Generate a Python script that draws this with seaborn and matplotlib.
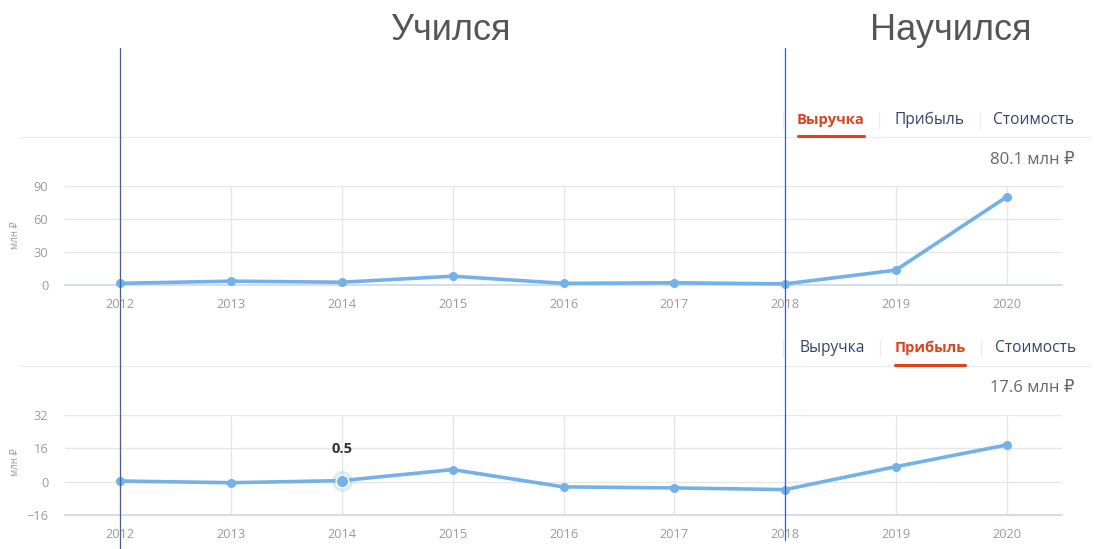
import matplotlib
matplotlib.use("Agg")
import matplotlib.pyplot as plt
from matplotlib.lines import Line2D
import pandas as pd
import seaborn as sns

# ===== data =====
years = [2012, 2013, 2014, 2015, 2016, 2017, 2018, 2019, 2020]
revenue = [1.5, 3.5, 2.5, 8.0, 1.5, 2.0, 1.0, 13.5, 80.1]
profit = [0.3, -0.5, 0.5, 5.8, -2.5, -3.0, -3.8, 7.2, 17.6]
tabs = ["Выручка", "Прибыль", "Стоимость"]
periods = ["Учился", "Научился"]
marks = [2012, 2018]

df = pd.DataFrame({"year": years, "revenue": revenue, "profit": profit})

sns.set_theme(style="white")
plt.rcParams["font.family"] = ["Open Sans", "DejaVu Sans"]

LINE = "#74b1e8"
GRID = "#e6e6e6"
TICK = "#9a9a9a"
RED = "#e0401a"
NAVY = "#34426e"

fig = plt.figure(figsize=(11.05, 5.49), dpi=100)
W, H = 1105, 549


def fx(px):
    return px / W


def fy(py):
    return 1 - py / H


def panel(top_px, bot_px, col, ylim, yticks):
    ax = fig.add_axes([fx(65), fy(bot_px), fx(997), (bot_px - top_px) / H])
    sns.lineplot(data=df, x="year", y=col, ax=ax, color=LINE, linewidth=2.6,
                 marker="o", markersize=6.5, markeredgewidth=0, clip_on=False,
                 zorder=5)
    ax.set_xlim(2011.5, 2020.5)
    ax.set_ylim(*ylim)
    ax.set_xticks(years)
    ax.set_yticks(yticks)
    ax.grid(True, color=GRID, linewidth=1)
    for s in ["top", "right", "left"]:
        ax.spines[s].set_visible(False)
    ax.spines["bottom"].set_color("#ccd6eb")
    ax.spines["bottom"].set_linewidth(1.2)
    ax.tick_params(axis="both", length=0, colors=TICK, labelsize=9.2)
    ax.tick_params(axis="x", pad=9)
    ax.tick_params(axis="y", pad=12)
    ax.set_xlabel("")
    ax.set_ylabel("")
    return ax


ax1 = panel(186, 285, "revenue", (0, 90), [0, 30, 60, 90])
ax2 = panel(415, 515, "profit", (-16, 32), [-16, 0, 16, 32])

# y labels
fig.text(fx(16), fy(235), "млн ₽", rotation=90, ha="center", va="center",
         fontsize=7, color=TICK)
fig.text(fx(15), fy(462), "млн ₽", rotation=90, ha="center", va="center",
         fontsize=7, color=TICK)

# highlighted point on 2014 profit
i = years.index(2014)
ax2.plot(years[i], profit[i], "o", markersize=15, color=LINE, alpha=0.25,
         markeredgewidth=0, zorder=6, clip_on=False)
ax2.plot(years[i], profit[i], "o", markersize=9, color=LINE,
         markeredgecolor="white", markeredgewidth=1, zorder=7, clip_on=False)
ax2.annotate(f"{profit[i]}", (years[i], profit[i]), xytext=(0, 23),
             textcoords="offset points", ha="center", va="center",
             fontsize=10.5, fontweight="bold", color="#333333")

# header tabs
tab_x = [[831, 929, 1034], [832, 930, 1036]]
sep_x = [[783, 879, 980], [783, 880, 981]]
tab_y = [120, 348]
line_y = [137, 366]
totals = [f"{revenue[-1]} млн ₽", f"{profit[-1]} млн ₽"]
total_y = [160, 388]
for k in range(2):
    fig.add_artist(Line2D([fx(20), fx(1090)], [fy(line_y[k])] * 2,
                          color="#ececec", linewidth=1))
    for j, t in enumerate(tabs):
        active = j == k
        fig.text(fx(tab_x[k][j]), fy(tab_y[k]), t, ha="center", va="center",
                 fontsize=10.6 if active else 11.2,
                 color=RED if active else NAVY,
                 fontweight="bold" if active else "normal")
        fig.add_artist(Line2D([fx(sep_x[k][j])] * 2,
                              [fy(tab_y[k] - 8), fy(tab_y[k] + 8)],
                              color="#eeeeee", linewidth=1))
        if active:
            half = 33 if j == 0 else 35
            fig.add_artist(Line2D([fx(tab_x[k][j] - half), fx(tab_x[k][j] + half)],
                                  [fy(line_y[k] - 1)] * 2, color=RED,
                                  linewidth=2.2, solid_capstyle="round"))
    fig.text(fx(1075), fy(total_y[k]), totals[k], ha="right", va="center",
             fontsize=12, color="#666666")

# period markers
for yr, top, bot in [(marks[0], 48, 549), (marks[1], 48, 540)]:
    x_fig = fig.transFigure.inverted().transform(
        ax1.transData.transform((yr, 0)))[0]
    fig.add_artist(Line2D([x_fig, x_fig], [fy(top), fy(bot)],
                          color="#3a5fb8", linewidth=0.9, zorder=10))

fig.text(fx(450), fy(30), periods[0], ha="center", va="center", fontsize=26,
         color="#555555", family=["Liberation Sans", "DejaVu Sans"])
fig.text(fx(951), fy(30), periods[1], ha="center", va="center", fontsize=26,
         color="#555555", family=["Liberation Sans", "DejaVu Sans"])

fig.savefig("out.png", dpi=100, facecolor="white")
